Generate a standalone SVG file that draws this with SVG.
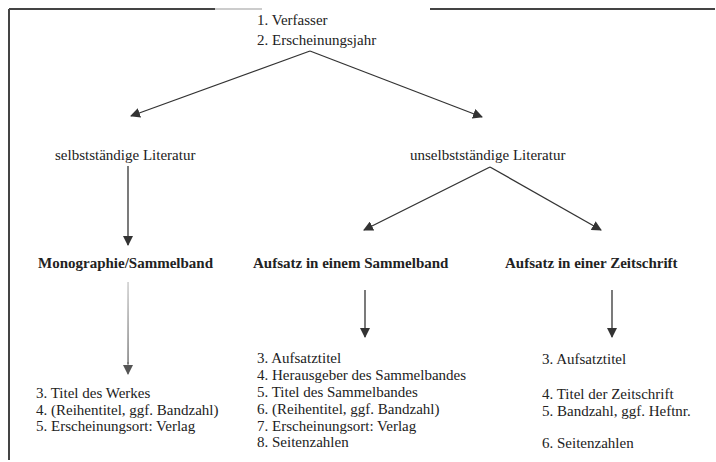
<svg xmlns="http://www.w3.org/2000/svg" width="716" height="462" viewBox="0 0 716 462">
<defs>
<style>
text{font-family:"Liberation Serif","Times New Roman",serif;font-size:15px;fill:#222}
.b{font-weight:bold}
.ln{stroke:#333;stroke-width:1.3;fill:none}
.frame{stroke:#444;stroke-width:2;fill:none}
</style>
<marker id="ah" viewBox="0 0 10 10" refX="9" refY="5" markerWidth="10" markerHeight="10" markerUnits="userSpaceOnUse" orient="auto">
<path d="M0,0 L10,5 L0,10 Z" fill="#333"/>
</marker>
<marker id="ahg" viewBox="0 0 10 10" refX="9" refY="5" markerWidth="10" markerHeight="10" markerUnits="userSpaceOnUse" orient="auto">
<path d="M0,0 L10,5 L0,10 Z" fill="#555"/>
</marker>
<linearGradient id="g" x1="0" y1="0" x2="0" y2="1">
<stop offset="0" stop-color="#ccc"/>
<stop offset="1" stop-color="#777"/>
</linearGradient>
</defs>
<g id="frame">
<path class="frame" d="M9,9 H215 M430,9 H715 M9,9 V460"/>
<path d="M215,9 H262" stroke="#bbb" stroke-width="1.5"/>
</g>
<g id="connectors">
<line class="ln" x1="310" y1="51" x2="131" y2="116" marker-end="url(#ah)"/>
<line class="ln" x1="310" y1="51" x2="482" y2="117" marker-end="url(#ah)"/>
<line class="ln" x1="128" y1="166" x2="128" y2="245" marker-end="url(#ah)"/>
<line class="ln" x1="490" y1="167" x2="364" y2="230" marker-end="url(#ah)"/>
<line class="ln" x1="490" y1="167" x2="601" y2="230" marker-end="url(#ah)"/>
<rect x="127.3" y="282" width="1.5" height="82" fill="url(#g)"/>
<line x1="128" y1="362" x2="128" y2="374" stroke="#666" stroke-width="1" marker-end="url(#ahg)"/>
<line class="ln" x1="365" y1="290" x2="365" y2="337" marker-end="url(#ah)"/>
<line class="ln" x1="612" y1="290" x2="612" y2="337" marker-end="url(#ah)"/>
</g>
<g id="root">
<text x="257" y="25">1. Verfasser</text>
<text x="257" y="45">2. Erscheinungsjahr</text>
</g>
<g id="selbst"><text x="55" y="160">selbstständige Literatur</text></g>
<g id="unselbst"><text x="410" y="160">unselbstständige Literatur</text></g>
<g id="mono"><text class="b" x="38" y="268">Monographie/Sammelband</text></g>
<g id="sammel"><text class="b" x="253" y="268">Aufsatz in einem Sammelband</text></g>
<g id="zeitschrift"><text class="b" x="505" y="268">Aufsatz in einer Zeitschrift</text></g>
<g id="mono-list">
<text x="36" y="398">3. Titel des Werkes</text>
<text x="36" y="414.5">4. (Reihentitel, ggf. Bandzahl)</text>
<text x="36" y="431">5. Erscheinungsort: Verlag</text>
</g>
<g id="sammel-list">
<text x="257" y="363">3. Aufsatztitel</text>
<text x="257" y="380">4. Herausgeber des Sammelbandes</text>
<text x="257" y="397">5. Titel des Sammelbandes</text>
<text x="257" y="414">6. (Reihentitel, ggf. Bandzahl)</text>
<text x="257" y="431">7. Erscheinungsort: Verlag</text>
<text x="257" y="447">8. Seitenzahlen</text>
</g>
<g id="zeit-list">
<text x="542" y="364">3. Aufsatztitel</text>
<text x="542" y="399">4. Titel der Zeitschrift</text>
<text x="542" y="416">5. Bandzahl, ggf. Heftnr.</text>
<text x="542" y="448">6. Seitenzahlen</text>
</g>
</svg>
